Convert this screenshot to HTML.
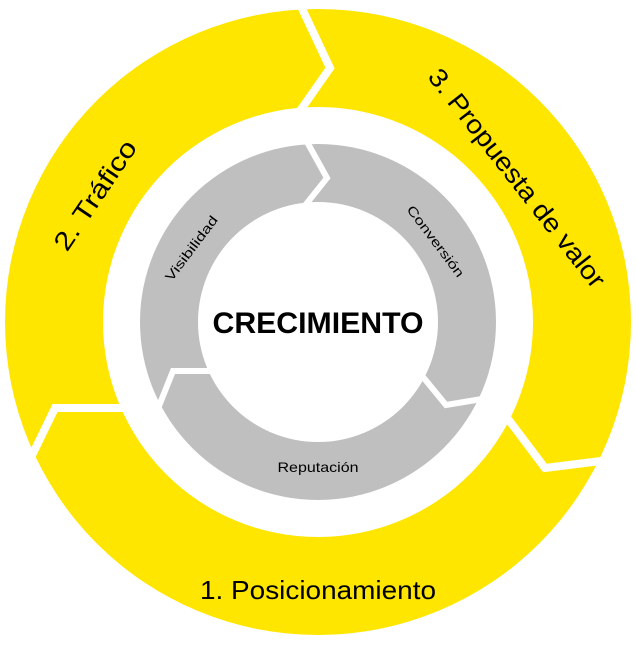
<!DOCTYPE html>
<html><head><meta charset="utf-8"><style>
html,body{margin:0;padding:0;background:#fff;width:636px;height:646px;overflow:hidden}
svg text{font-family:"Liberation Sans",sans-serif}
</style></head><body>
<svg width="636" height="646" viewBox="0 0 636 646" xmlns="http://www.w3.org/2000/svg">
<circle cx="318" cy="322" r="313" fill="#FFE600"/>
<circle cx="318" cy="322" r="215" fill="#fff"/>
<g stroke="#fff" stroke-width="8" fill="none" stroke-linejoin="miter">
<polyline points="298,0 330,68 295,118"/>
<polyline points="505,415 545,468 625,458"/>
<polyline points="22,476 55,408 126,408"/>
</g>
<circle cx="318" cy="322" r="178" fill="#BFBFBF"/>
<circle cx="318" cy="322" r="120" fill="#fff"/>
<g stroke="#fff" stroke-width="6" fill="none">
<polyline points="306,140 327,178 303,208"/>
<polyline points="423,377 446,405 500,396"/>
<polyline points="155,416 173,371 210,371"/>
</g>
<text x="318" y="333" text-anchor="middle" font-size="30" font-weight="bold" textLength="211" lengthAdjust="spacingAndGlyphs">CRECIMIENTO</text>
<text x="318" y="599" text-anchor="middle" font-size="26" textLength="236" lengthAdjust="spacingAndGlyphs">1. Posicionamiento</text>
<text transform="translate(95,195) rotate(-56)" x="0" y="9" text-anchor="middle" font-size="26" textLength="127" lengthAdjust="spacingAndGlyphs">2. Tráfico</text>
<text transform="translate(517,178) rotate(52)" x="0" y="9" text-anchor="middle" font-size="26" textLength="270" lengthAdjust="spacingAndGlyphs">3. Propuesta de valor</text>
<text transform="translate(191,248) rotate(-53)" x="0" y="5" text-anchor="middle" font-size="13" textLength="78" lengthAdjust="spacingAndGlyphs">Visibilidad</text>
<text transform="translate(436,241) rotate(53)" x="0" y="5" text-anchor="middle" font-size="13" textLength="86" lengthAdjust="spacingAndGlyphs">Conversión</text>
<text x="318" y="472" text-anchor="middle" font-size="14" textLength="81" lengthAdjust="spacingAndGlyphs">Reputación</text>
</svg>
</body></html>
